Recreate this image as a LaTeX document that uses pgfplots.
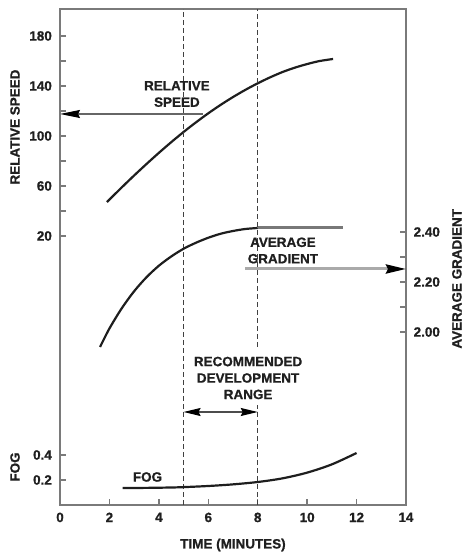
\documentclass[border=0pt]{standalone}
\usepackage{fontspec}
\setmainfont{Liberation Sans}[FakeBold=0.9]
\usepackage{pgfplots}
\pgfplotsset{compat=1.18}
\usetikzlibrary{arrows.meta}
\definecolor{framegray}{HTML}{7A7A7A}
\definecolor{curve}{HTML}{1E1E1E}
\definecolor{flatgray}{HTML}{787878}
\definecolor{arrowgray}{HTML}{AAAAAA}
\newcommand{\lbl}{\fontsize{13.5}{16.5}\selectfont\bfseries}
\pgfplotsset{
  base/.style={
    width=346bp, height=496bp, scale only axis,
    at={(0,0)}, anchor=south west,
    xmin=0, xmax=14,
    /pgf/number format/assume math mode=true,
    ticklabel style={font=\lbl, text=black!88},
    label style={font=\lbl, text=black!88},
    tick align=inside,
    major tick length=6bp, minor tick length=6bp,
    tick style={framegray, line width=1.3bp},
    axis line style={framegray, line width=2bp},
    clip=false,
  }
}
\begin{document}
\lbl
\begin{tikzpicture}[x=1bp,y=1bp]
% ---------------- speed axis (main frame) ----------------
\begin{axis}[base,
  ymin=-195.2, ymax=201.6,
  xtick={0,2,...,14}, xtick pos=lower,
  ytick={20,60,100,140,180}, minor ytick={40,80,120,160},
  ytick pos=left,
  xticklabel shift=3bp, yticklabel shift=3.5bp,
  xlabel={TIME (MINUTES)},
  xlabel style={at={(axis description cs:0.5,-0.0806)}, anchor=center},
  ylabel={RELATIVE SPEED},
  ylabel style={at={(axis description cs:-0.130,0.762)}, anchor=center, rotate=0},
]
% relative speed curve
\addplot[curve, line width=2.2bp, smooth] coordinates {
  (1.9,47.2) (2.5,58.9) (3.0,68.4) (3.5,77.6) (4.0,86.5) (4.5,95.05) (5.0,103.2)
  (5.5,110.9) (6.0,118.15) (6.5,124.9) (7.0,131.15) (7.5,136.9) (8.0,142.15)
  (8.5,146.9) (9.0,151.15) (9.5,154.65) (10.0,157.55) (10.5,159.95) (11.05,161.6)
};
% speed arrow to left axis
\addplot[arrowgray!60!black, line width=1.3bp,
  -{Stealth[length=20bp,width=8bp,inset=2bp,black]}] coordinates {(5.79,117.6) (0,117.6)};
% dashed recommended range lines
\addplot[black!75, line width=0.9bp, dash pattern=on 5bp off 3bp] coordinates {(5,-195.2) (5,201.6)};
\addplot[black!75, line width=0.9bp, dash pattern=on 5bp off 3bp] coordinates {(8,-68.8) (8,201.6)};
\addplot[black!75, line width=0.9bp, dash pattern=on 5bp off 3bp] coordinates {(8,-195.2) (8,-115.2)};
% double arrow
\addplot[black!70, line width=1.2bp,
  {Stealth[length=17bp,width=8bp,inset=2bp,black]}-{Stealth[length=17bp,width=8bp,inset=2bp,black]}]
  coordinates {(5,-120.8) (8,-120.8)};
% texts
\node[align=center, font=\lbl, text=black!88] at (axis cs:4.73,133.6) {RELATIVE\\SPEED};
\node[align=center, font=\lbl, text=black!88] at (axis cs:9.02,8.4) {AVERAGE\\GRADIENT};
\node[align=center, font=\lbl, text=black!88] at (axis cs:7.61,-93.6) {RECOMMENDED\\DEVELOPMENT\\RANGE};
\end{axis}
% ---------------- fog axis ----------------
\begin{axis}[base,
  ymin=0, ymax=3.968,
  hide x axis, axis y line*=left,
  ytick={0.2,0.4},
  yticklabel shift=3.5bp,
  ylabel={FOG},
  ylabel style={at={(axis description cs:-0.130,0.0766)}, anchor=center, rotate=0},
]
\addplot[curve, line width=2.2bp, smooth] coordinates {
  (2.53,0.136) (3.5,0.137) (4.5,0.140) (5.0,0.143) (6.0,0.152) (7.0,0.165) (8.0,0.184)
  (9.0,0.213) (10.0,0.259) (11.0,0.325) (12.0,0.416)
};
\node[font=\lbl, text=black!88] at (axis cs:3.54,0.224) {FOG};
\end{axis}
% ---------------- gradient axis ----------------
\begin{axis}[base,
  ymin=1.308, ymax=3.292,
  hide x axis, axis y line*=right,
  ytick={2.0,2.2,2.4}, minor ytick={2.1,2.3},
  yticklabel style={/pgf/number format/.cd, fixed, fixed zerofill, precision=2},
  yticklabel shift=3bp,
  ylabel={AVERAGE GRADIENT},
  ylabel style={at={(axis description cs:1.147,0.456)}, anchor=center, rotate=0},
]
\addplot[curve, line width=2.2bp, smooth] coordinates {
  (1.62,1.94) (2.0,2.014) (2.5,2.095) (3.0,2.163) (3.5,2.219) (4.0,2.265) (4.5,2.302)
  (5.0,2.333) (5.5,2.357) (6.0,2.377) (6.5,2.393) (7.0,2.404) (7.5,2.412) (8.0,2.416)
};
\addplot[flatgray, line width=3bp] coordinates {(8.0,2.416) (11.45,2.416)};
\addplot[arrowgray, line width=3bp,
  -{Stealth[length=20bp,width=9bp,inset=2bp,black]}] coordinates {(7.49,2.252) (14,2.252)};
\end{axis}
\pgfresetboundingbox
\path[use as bounding box] (-60,-50) rectangle (403,505);
\end{tikzpicture}
\end{document}
